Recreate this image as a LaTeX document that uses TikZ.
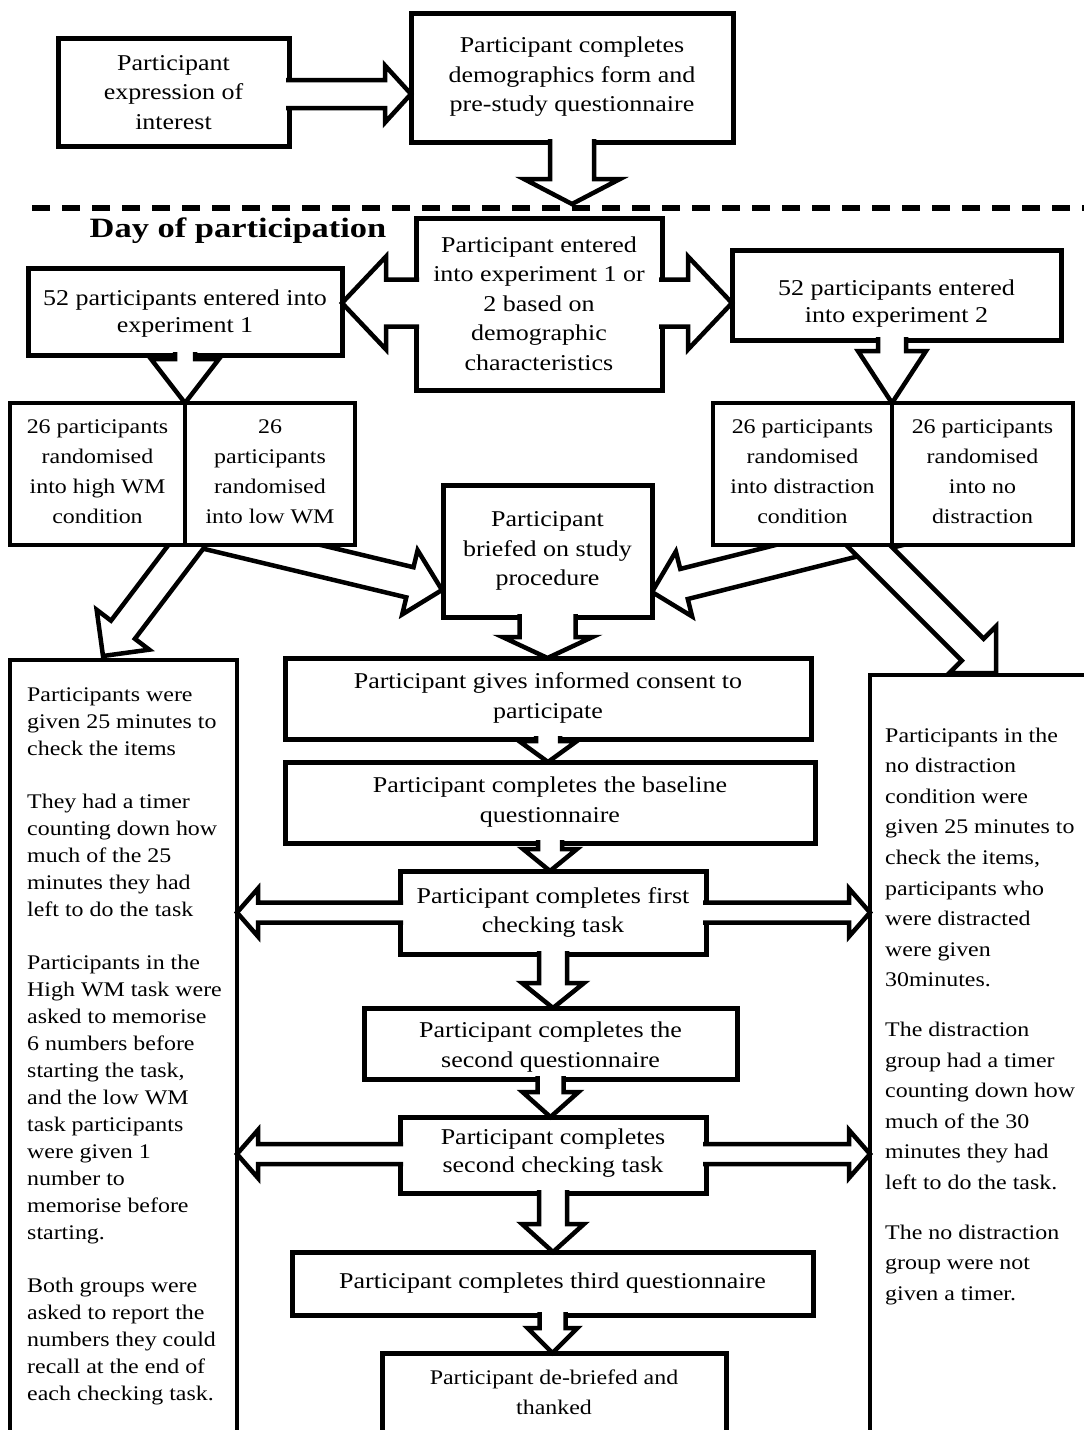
\documentclass[tikz,border=0pt]{standalone}
\usepackage{fontspec}
\setmainfont{Liberation Serif}[FakeStretch=1.15]
\newfontfamily\headfont{Liberation Serif}[FakeStretch=1.23]
\usetikzlibrary{calc}

\tikzset{
  box/.style={draw, line width=5pt, fill=white, inner sep=0pt, outer sep=0pt, rectangle},
  cell/.style={box, line width=4.5pt},
  barrow/.style={draw, line width=4.5pt, fill=white, line join=miter},
  dashline/.style={line width=5.5pt, dash pattern=on 18pt off 12pt},
  maintext/.style={align=center, inner sep=0pt, font=\fontsize{22.6}{29.5}\selectfont},
  smalltext/.style={align=center, inner sep=0pt, font=\fontsize{20.8}{30}\selectfont},
  sidetext/.style={align=left, inner sep=0pt, anchor=north west},
}

% block arrow: [style] {start} {tip} {shaft half width} {head half width} {head length}
\newcommand\blockarrow[6][]{%
  \coordinate (ba-s) at #2;
  \coordinate (ba-t) at #3;
  \coordinate (ba-b) at ($(ba-t)!#6pt!(ba-s)$);
  \path[barrow,#1]
    ($(ba-s)!#4pt!90:(ba-t)$) -- ($(ba-b)!#4pt!90:(ba-t)$) --
    ($(ba-b)!#5pt!90:(ba-t)$) -- (ba-t) --
    ($(ba-b)!#5pt!-90:(ba-t)$) -- ($(ba-b)!#4pt!-90:(ba-t)$) --
    ($(ba-s)!#4pt!-90:(ba-t)$);
}

\begin{document}
\begin{tikzpicture}[x=1pt,y=-1pt]
\fill[white] (0,0) rectangle (1084,1430);
\useasboundingbox (0,0) rectangle (1084,1430);

% nodes that the diagonal arrows run between
\node[cell, minimum width=175pt, minimum height=142pt] (G1) at (97.5,474) {};
\node[cell, minimum width=170pt, minimum height=142pt] (G2) at (270,474) {};
\node[cell, minimum width=179pt, minimum height=142pt] (H1) at (802.5,474) {};
\node[cell, minimum width=181pt, minimum height=142pt] (H2) at (982.5,474) {};
\node[box, minimum width=209pt, minimum height=132pt] (I) at (547.5,551) {};
\node[box, line width=4.5pt, minimum width=227pt, minimum height=780pt] (Q) at (123.5,1050) {};
\node[box, line width=4.5pt, minimum width=230pt, minimum height=765pt] (R) at (985,1057.5) {};

% diagonal arrows, drawn beneath the split boxes
\blockarrow{($(G1.south)+(52.5,-25)$)}{($(I.west)+(-1,39)$)}{15.5}{33}{33}
\blockarrow{($(G2.south)+(-16,-88)$)}{($(Q.north)+(-20.5,-4)$)}{15}{33}{33}
\blockarrow{($(H2.south)+(-39.5,-26)$)}{($(I.east)+(0,41)$)}{15.5}{33.5}{33}
\blockarrow{($(H1.south)+(-18.5,-84)$)}{($(R.north)+(11,-2)$)}{15.5}{33}{33}

% boxes
\node[box, minimum width=231pt, minimum height=108pt] (A) at (173.5,92) {};
\node[box, minimum width=322pt, minimum height=129pt] (B) at (572,77.5) {};
\node[box, minimum width=246pt, minimum height=172pt] (C) at (539,304) {};
\node[box, minimum width=314pt, minimum height=87pt] (E) at (185,311.5) {};
\node[box, minimum width=329pt, minimum height=90pt] (D) at (896.5,295) {};
\node[cell, minimum width=175pt, minimum height=142pt] (G1b) at (G1) {};
\node[cell, minimum width=170pt, minimum height=142pt] (G2b) at (G2) {};
\node[cell, minimum width=179pt, minimum height=142pt] (H1b) at (H1) {};
\node[cell, minimum width=181pt, minimum height=142pt] (H2b) at (H2) {};
\node[box, minimum width=209pt, minimum height=132pt] (Ib) at (I) {};
\node[box, line width=4.5pt, minimum width=227pt, minimum height=780pt] (Qb) at (Q) {};
\node[box, line width=4.5pt, minimum width=230pt, minimum height=765pt] (Rb) at (R) {};
\node[box, minimum width=526pt, minimum height=81pt] (J) at (548,698.5) {};
\node[box, minimum width=530pt, minimum height=81pt] (K) at (550,802.5) {};
\node[box, minimum width=306pt, minimum height=83pt] (L) at (553,912.5) {};
\node[box, minimum width=373pt, minimum height=71pt] (M) at (550.5,1043.5) {};
\node[box, minimum width=306pt, minimum height=76pt] (N) at (553,1155) {};
\node[box, minimum width=521pt, minimum height=63pt] (O) at (552.5,1283.5) {};
\node[box, minimum width=344pt, minimum height=87pt] (P) at (554,1396.5) {};

% dashed separator
\coordinate (dl) at (32,208);
\coordinate (dr) at (1090,208);

% arrows laid over their source boxes
\blockarrow{($(A.east)+(-3,2)$)}{($(B.west)+(0,16.5)$)}{14}{28.5}{26}
\blockarrow{($(B.south)+(0,-3)$)}{($(B.south |- dl)+(0,-4)$)}{22}{48}{25}
\blockarrow{($(C.west)+(3,-1)$)}{($(E.east |- C.west)+(0,-1)$)}{23.5}{46.5}{44}
\blockarrow{($(C.east)+(-3,-1)$)}{($(D.west |- C.east)+(0,-1)$)}{23.5}{46.5}{44}
\blockarrow{($(E.south)+(0,-3)$)}{(G1.north east)}{10}{34}{44}
\blockarrow{($(H1.north east |- D.south)+(0,-3)$)}{(H1.north east)}{14}{34}{52}
\blockarrow{($(I.south)+(0,-3)$)}{(I.south |- J.north)}{28}{45}{21}
\blockarrow{($(J.south)+(0,-3)$)}{(J.south |- K.north)}{12}{29}{21}
\blockarrow{($(K.south)+(0,-3)$)}{(K.south |- L.north)}{12}{27}{22}
\blockarrow{($(L.south)+(0,-3)$)}{(L.south |- M.north)}{14}{31}{25}
\blockarrow{($(M.south)+(0,-3)$)}{(M.south |- N.north)}{13}{28}{25}
\blockarrow{($(N.south)+(0,-3)$)}{(N.south |- O.north)}{14}{31}{28}
\blockarrow{($(O.south)+(0,-3)$)}{(O.south |- P.north)}{13}{25}{25}
\blockarrow{($(L.west)+(3,0)$)}{(Q.east |- L.west)}{10}{24}{21}
\blockarrow{($(L.east)+(-3,0)$)}{(R.west |- L.east)}{10}{24}{21}
\blockarrow{($(N.west)+(3,-1)$)}{($(Q.east |- N.west)+(0,-1)$)}{10}{24}{21}
\blockarrow{($(N.east)+(-3,-1)$)}{($(R.west |- N.east)+(0,-1)$)}{10}{24}{21}

\draw[dashline] (dl) -- (dr);

% texts
\node[maintext] (At) at (173.5,92.5) {Participant\\expression of\\interest};
\node[maintext] (Bt) at (572,77) {Participant completes\\demographics form and\\pre-study questionnaire};
\node[font=\headfont\bfseries\fontsize{28}{30}\selectfont, inner sep=0pt] (day) at (238,231) {Day of participation};
\node[maintext] (Ct) at (539,303.5) {Participant entered\\into experiment 1 or\\2 based on\\demographic\\characteristics};
\node[maintext, font=\fontsize{22.6}{27.5}\selectfont] (Et) at (185,313.5) {52 participants entered into\\experiment 1};
\node[maintext, font=\fontsize{22.6}{27.5}\selectfont] (Dt) at (896.5,303.5) {52 participants entered\\into experiment 2};
\node[smalltext] (G1t) at (97.5,472) {26 participants\\randomised\\into high WM\\condition};
\node[smalltext] (G2t) at (270,472) {26\\participants\\randomised\\into low WM};
\node[smalltext] (H1t) at (802.5,472) {26 participants\\randomised\\into distraction\\condition};
\node[smalltext] (H2t) at (982.5,472) {26 participants\\randomised\\into no\\distraction};
\node[maintext] (It) at (547.5,551) {Participant\\briefed on study\\procedure};
\node[maintext] (Jt) at (548,698) {Participant gives informed consent to\\participate};
\node[maintext] (Kt) at (550,802) {Participant completes the baseline\\questionnaire};
\node[maintext, font=\fontsize{22.6}{29}\selectfont] (Lt) at (553,912.5) {Participant completes first\\checking task};
\node[maintext] (Mt) at (550.5,1047) {Participant completes the\\second questionnaire};
\node[maintext, font=\fontsize{22.6}{28}\selectfont] (Nt) at (553,1153.5) {Participant completes\\second checking task};
\node[maintext] (Ot) at (552.5,1283) {Participant completes third questionnaire};
\node[smalltext] (Pt) at (554,1392) {Participant de-briefed and\\thanked};

\node[sidetext, font=\fontsize{20.8}{27}\selectfont] (Qt) at (27,688) {Participants were\\given 25 minutes to\\check the items\\[26pt]They had a timer\\counting down how\\much of the 25\\minutes they had\\left to do the task\\[26pt]Participants in the\\High WM task were\\asked to memorise\\6 numbers before\\starting the task,\\and the low WM\\task participants\\were given 1\\number to\\memorise before\\starting.\\[26pt]Both groups were\\asked to report the\\numbers they could\\recall at the end of\\each checking task.};
\node[sidetext, font=\fontsize{20.8}{30.6}\selectfont] (Rt) at (885,727.5) {Participants in the\\no distraction\\condition were\\given 25 minutes to\\check the items,\\participants who\\were distracted\\were given\\30minutes.\\[19pt]The distraction\\group had a timer\\counting down how\\much of the 30\\minutes they had\\left to do the task.\\[19pt]The no distraction\\group were not\\given a timer.};
\end{tikzpicture}
\end{document}
